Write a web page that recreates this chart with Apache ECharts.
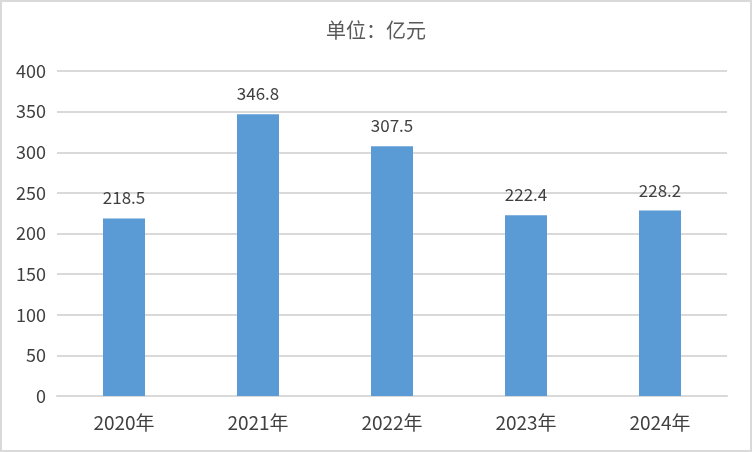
<!DOCTYPE html>
<html><head><meta charset="utf-8">
<script src="https://cdn.jsdelivr.net/npm/echarts@6/dist/echarts.min.js"></script>
<style>html,body{margin:0;padding:0;background:#fff}#c{width:752px;height:452px;box-sizing:border-box;border:2px solid #d9d9d9}</style>
</head><body><div id="c"></div>
<script>
const categories = ['2020年','2021年','2022年','2023年','2024年'];
const values = [218.5, 346.8, 307.5, 222.4, 228.2];
const titleText = '单位：亿元';
const chart = echarts.init(document.getElementById('c'));
const font = '"Noto Sans CJK SC", "Noto Sans", sans-serif';
chart.setOption({
  animation: false,
  title: {text: titleText, left: 'center', top: 13, textStyle: {fontFamily: font, fontSize: 20, fontWeight: 'normal', color: '#595959'}},
  grid: {left: 55, right: 23, top: 69, bottom: 54},
  xAxis: {type: 'category', data: categories,
    axisLine: {lineStyle: {color: '#d9d9d9', width: 2}}, axisTick: {show: false},
    axisLabel: {fontFamily: font, fontSize: 19, color: '#404040', margin: 17}},
  yAxis: {type: 'value', min: 0, max: 400, interval: 50,
    axisLine: {show: false}, axisTick: {show: false},
    splitLine: {lineStyle: {color: '#d9d9d9', width: 2}},
    axisLabel: {fontFamily: font, fontSize: 18, color: '#404040', margin: 11}},
  series: [{type: 'bar', data: values, barWidth: 42, itemStyle: {color: '#5b9bd5'},
    label: {show: true, position: 'top', distance: 12, fontFamily: font, fontSize: 17, color: '#404040'}}]
});
</script></body></html>
